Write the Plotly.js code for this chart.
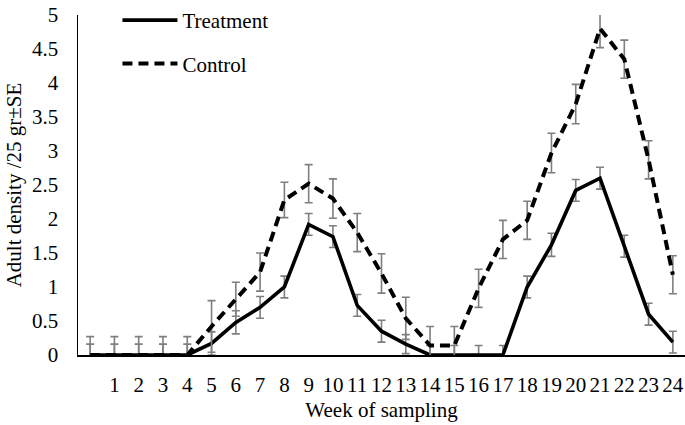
<!DOCTYPE html>
<html>
<head>
<meta charset="utf-8">
<script src="https://cdn.plot.ly/plotly-3.0.1.min.js"></script>
<style>html,body{margin:0;padding:0;background:#fff}#chart{width:685px;height:425px}</style>
</head>
<body>
<div id="chart"></div>
<script>
var weeks = [0,1,2,3,4,5,6,7,8,9,10,11,12,13,14,15,16,17,18,19,20,21,22,23,24];
var tickWeeks = [1,2,3,4,5,6,7,8,9,10,11,12,13,14,15,16,17,18,19,20,21,22,23,24];
var tickLabels = ["1","2","3","4","5","6","7","8","9","10","11","12","13","14","15","16","17","18","19","20","21","22","23","24"];
var yTicks = [0,0.5,1,1.5,2,2.5,3,3.5,4,4.5,5];
var yTickLabels = ["0","0.5","1","1.5","2","2.5","3","3.5","4","4.5","5"];
var treatment = [0,0,0,0,0,0.17,0.48,0.7,1.0,1.92,1.74,0.73,0.35,0.16,0,0,0,0,1.0,1.62,2.42,2.6,1.6,0.6,0.19];
var treatmentSE = [0.16,0.16,0.16,0.16,0.16,0.17,0.17,0.16,0.16,0.16,0.16,0.16,0.16,0.14,0.14,0.14,0.14,0.14,0.16,0.17,0.16,0.16,0.16,0.16,0.16];
var control = [0,0,0,0,0,0.42,0.82,1.22,2.28,2.52,2.3,1.8,1.2,0.54,0.14,0.14,0.98,1.7,1.98,2.97,3.69,4.8,4.35,2.87,1.18];
var controlSE = [0.27,0.27,0.27,0.27,0.27,0.38,0.25,0.28,0.26,0.28,0.29,0.28,0.29,0.31,0.28,0.28,0.28,0.28,0.28,0.29,0.29,0.28,0.28,0.28,0.28];

var FONT = 'Liberation Serif';
var errStyle = {type: 'data', visible: true, color: '#7f7f7f', thickness: 1.6, width: 4};

var traces = [
  {x: weeks, y: treatment, name: 'Treatment', type: 'scatter', mode: 'lines',
   line: {color: '#000', width: 3.6},
   error_y: Object.assign({array: treatmentSE}, errStyle), legendgroup: 'a'},
  {x: weeks, y: control, name: 'Control', type: 'scatter', mode: 'lines',
   line: {color: '#000', width: 4, dash: '10px,6px'},
   error_y: Object.assign({array: controlSE}, errStyle), legendgroup: 'b'}
];

var layout = {
  width: 685, height: 425,
  margin: {l: 78, r: 0, t: 8, b: 70},
  paper_bgcolor: '#fff', plot_bgcolor: '#fff',
  font: {family: FONT, size: 20, color: '#000'},
  showlegend: true,
  legend: {x: 0.065, y: 1.045, xanchor: 'left', yanchor: 'top', bgcolor: 'rgba(0,0,0,0)',
           font: {family: FONT, size: 21, color: '#000'}, tracegroupgap: 13, itemwidth: 55},
  xaxis: {range: [-0.5, 24.5], tickmode: 'array', tickvals: tickWeeks, ticktext: tickLabels,
          showgrid: false, zeroline: false, showline: true, linecolor: '#000', linewidth: 2,
          ticks: 'outside', ticklen: 10, tickcolor: 'rgba(0,0,0,0)', ticklabeloverflow: 'allow',
          tickfont: {family: FONT, size: 21, color: '#000'},
          title: {text: 'Week of sampling', font: {family: FONT, size: 21, color: '#000'}, standoff: 6}},
  yaxis: {range: [0, 5], tickmode: 'array', tickvals: yTicks, ticktext: yTickLabels,
          showgrid: false, zeroline: false,
          showline: true, linecolor: '#000', linewidth: 1.5,
          ticks: 'outside', ticklen: 14, tickcolor: 'rgba(0,0,0,0)', ticklabeloverflow: 'allow',
          tickfont: {family: FONT, size: 21, color: '#000'},
          title: {text: 'Adult density /25 gr±SE', font: {family: FONT, size: 21, color: '#000'}, standoff: 4}}
};

Plotly.newPlot('chart', traces, layout, {displayModeBar: false, staticPlot: true});
</script>
</body>
</html>
